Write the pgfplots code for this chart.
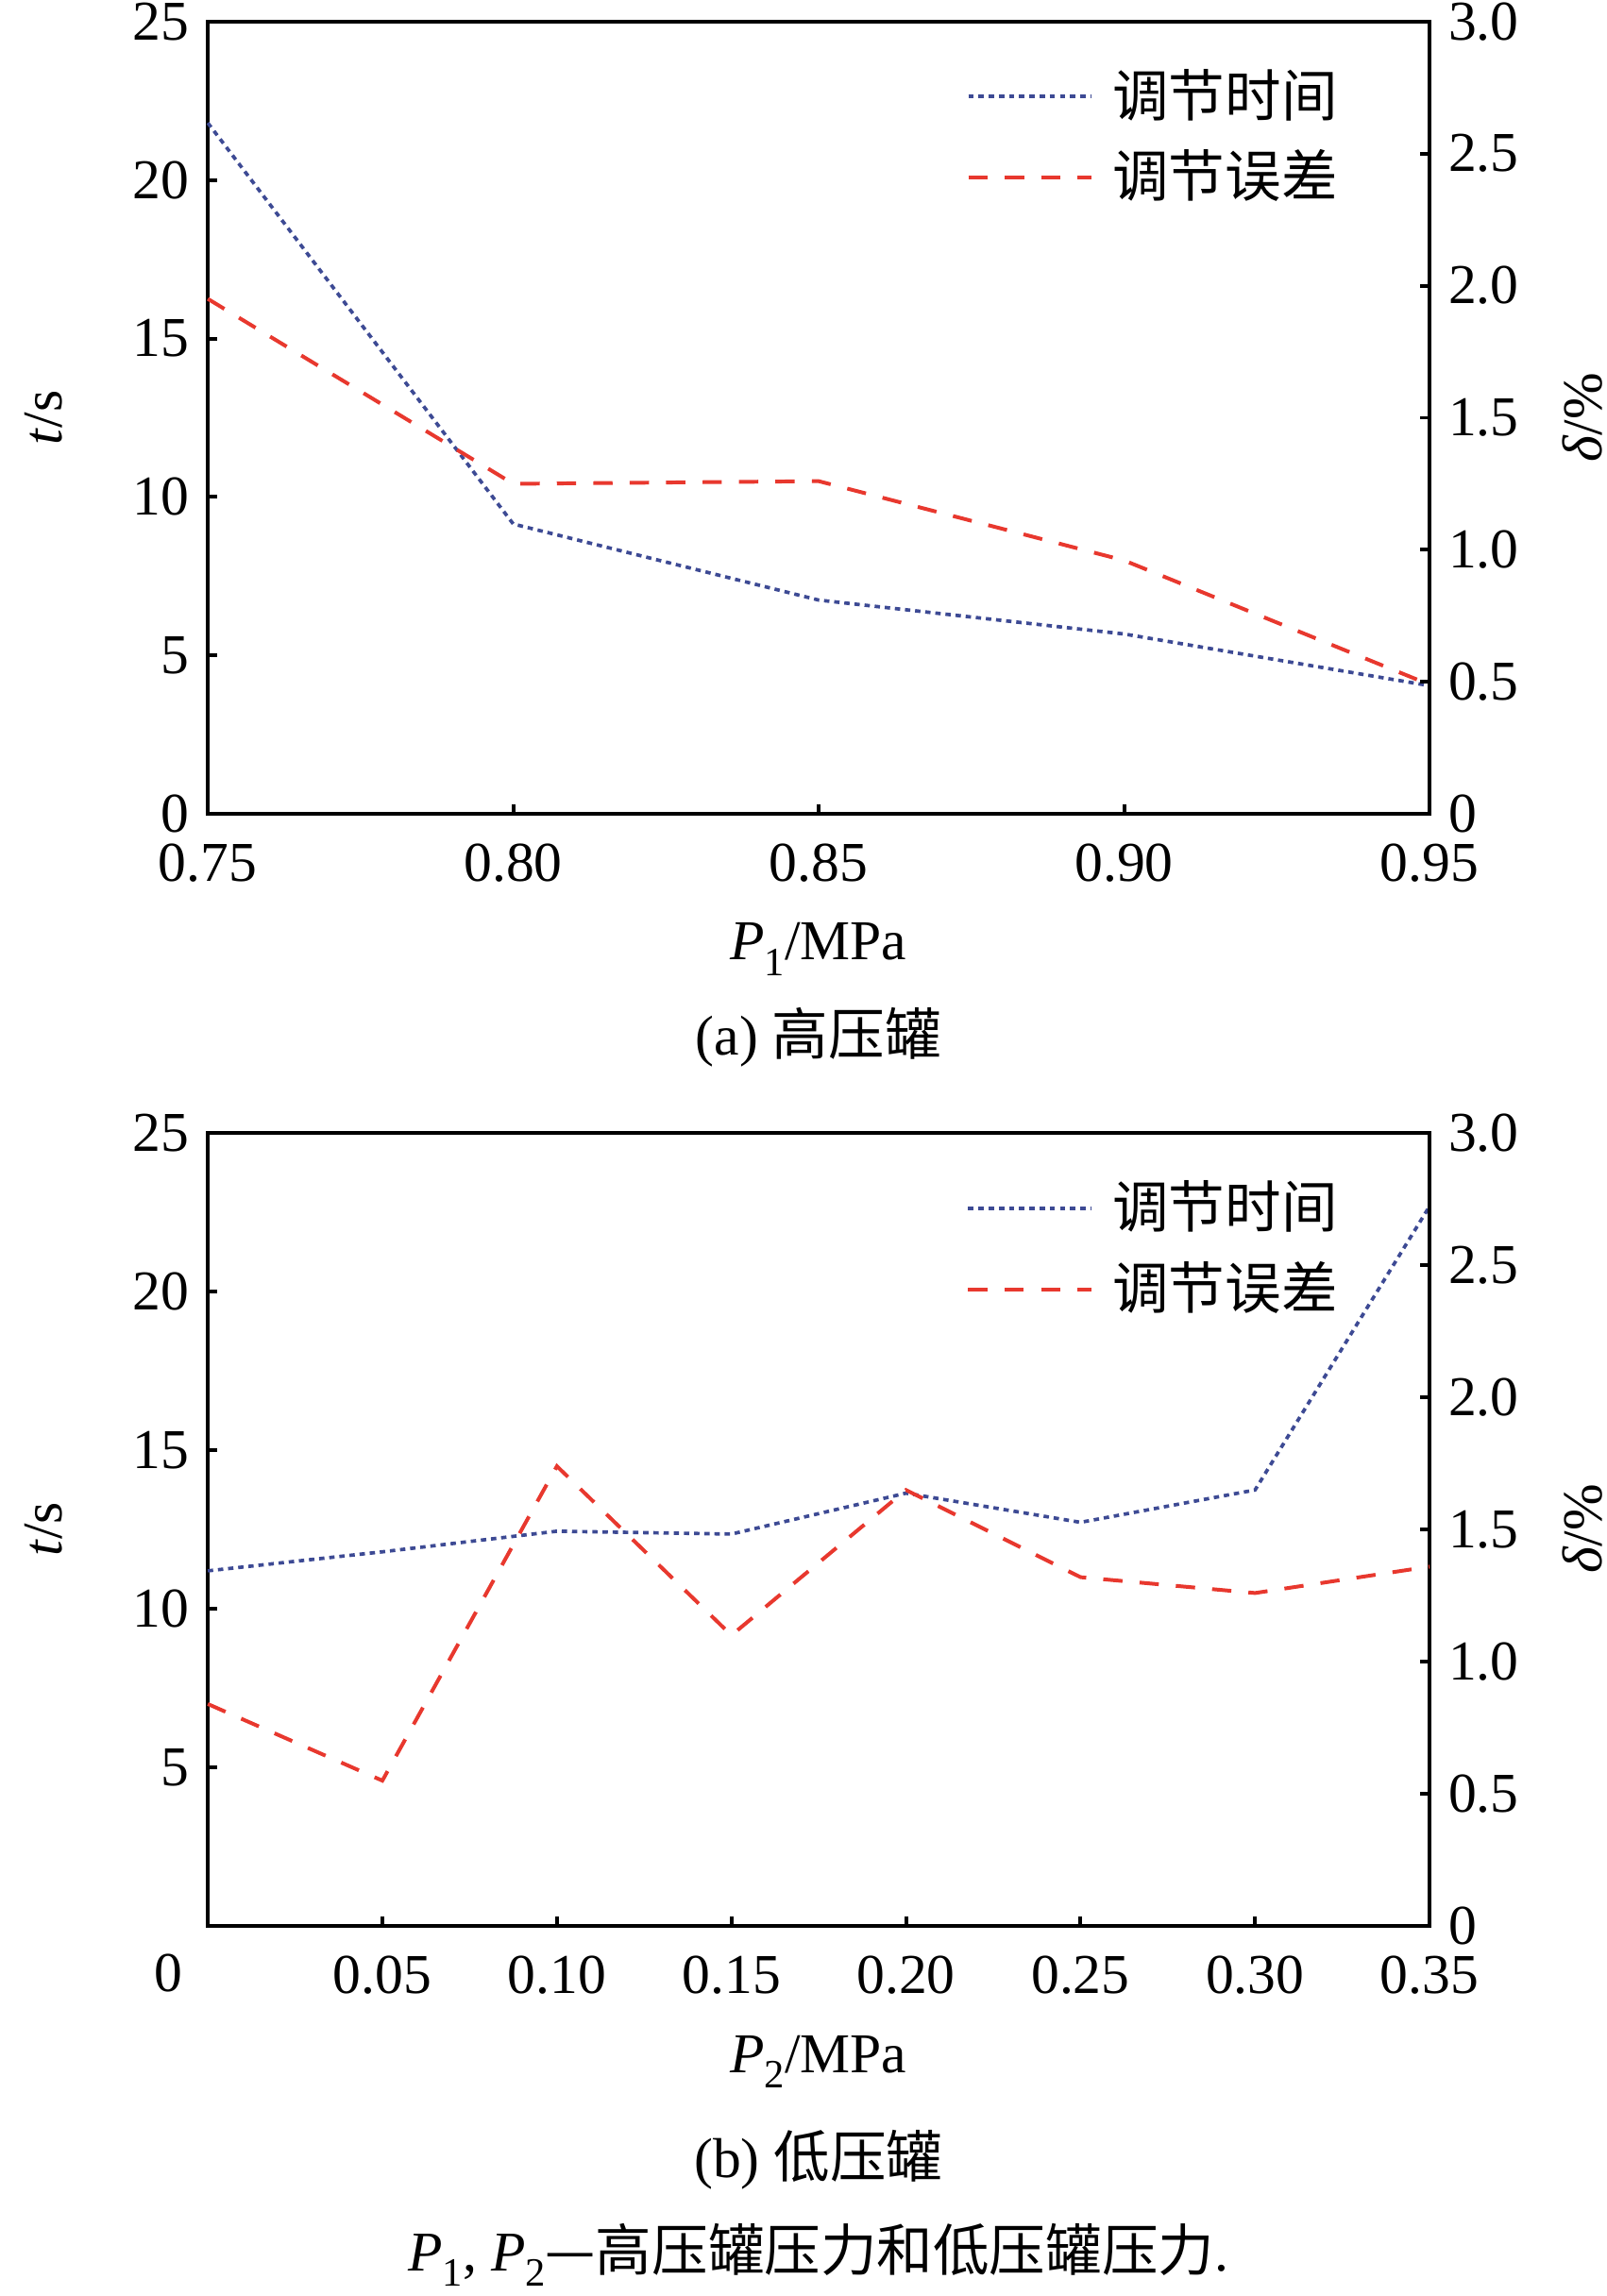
\documentclass[border=0pt]{standalone}
\usepackage{pgfplots}
\pgfplotsset{compat=1.18}
\usepackage{fontspec}
\setmainfont{Liberation Serif}
\newfontfamily\cjk{Noto Sans CJK SC}
\definecolor{tblue}{HTML}{3D4A94}
\definecolor{tred}{HTML}{E8382E}
\pgfplotsset{
  every axis/.append style={font=\fontsize{10.5}{12}\selectfont},
  /pgf/number format/assume math mode=true,
  common/.style={
    scale only axis, width=228.1pt, height=148pt, anchor=south west,
    tick align=inside, major tick length=1.8pt,
    axis line style={line width=0.7pt},
    every tick/.style={black, line width=0.7pt},
    xticklabel style={yshift=-2pt},
    clip=false,
  },
  tstyle/.style={color=tblue, line width=0.65pt, dash pattern=on 1pt off 0.9pt},
  dstyle/.style={color=tred, line width=0.7pt, dash pattern=on 3.6pt off 3.2pt},
  leg/.style={
    legend style={at={(0.62,0.955)}, anchor=north west, draw=none, fill=none,
      font=\cjk\fontsize{10.5}{12}\selectfont, row sep=0.8pt, inner sep=0pt},
    legend cell align=left,
    legend image code/.code={\draw[##1] (0pt,0pt) -- (23pt,0pt); \path (24.6pt,0pt);},
  },
}
\pgfplotstableread{
x t
0.75 21.8
0.80 9.15
0.85 6.75
0.90 5.68
0.95 4.05
}\topT
\pgfplotstableread{
x d
0.75 1.95
0.80 1.25
0.85 1.26
0.90 0.96
0.95 0.49
}\topD
\pgfplotstableread{
x t
0.00 11.2
0.05 11.8
0.10 12.45
0.15 12.36
0.20 13.65
0.25 12.73
0.30 13.75
0.35 22.7
}\botT
\pgfplotstableread{
x d
0.00 0.84
0.05 0.55
0.10 1.74
0.15 1.10
0.20 1.65
0.25 1.32
0.30 1.26
0.35 1.36
}\botD
\begin{document}
\begin{tikzpicture}
\path[use as bounding box] (0,0) rectangle (300pt,-428.7pt);
% ---------- top panel ----------
\begin{axis}[common, at={(38.8pt,-152pt)},
  xmin=0.75, xmax=0.95, ymin=0, ymax=25,
  xtick={0.75,0.80,0.85,0.90,0.95},
  xticklabels={0.75,0.80,0.85,0.90,0.95},
  ytick={0,5,10,15,20,25},
  xtick pos=bottom, ytick pos=left]
\addplot[tstyle] table[x=x,y=t] {\topT};
\end{axis}
\begin{axis}[common, at={(38.8pt,-152pt)}, leg,
  xmin=0.75, xmax=0.95, ymin=0, ymax=3,
  axis x line=none, axis y line*=right,
  ytick={0,0.5,1,1.5,2,2.5,3},
  yticklabels={0,0.5,1.0,1.5,2.0,2.5,3.0}]
\addlegendimage{tstyle}
\addlegendentry{调节时间}
\addplot[dstyle] table[x=x,y=d] {\topD};
\addlegendentry{调节误差}
\end{axis}
% ---------- bottom panel ----------
\begin{axis}[common, at={(38.8pt,-359.6pt)},
  xmin=0, xmax=0.35, ymin=0, ymax=25,
  xtick={0.05,0.10,0.15,0.20,0.25,0.30,0.35},
  xticklabels={0.05,0.10,0.15,0.20,0.25,0.30,0.35},
  ytick={5,10,15,20,25},
  xtick pos=bottom, ytick pos=left]
\addplot[tstyle] table[x=x,y=t] {\botT};
\node[below, inner sep=0pt] at ([xshift=-7.4pt,yshift=-5pt]rel axis cs:0,0) {0};
\end{axis}
\begin{axis}[common, at={(38.8pt,-359.6pt)}, leg,
  xmin=0, xmax=0.35, ymin=0, ymax=3,
  axis x line=none, axis y line*=right,
  ytick={0,0.5,1,1.5,2,2.5,3},
  yticklabels={0,0.5,1.0,1.5,2.0,2.5,3.0}]
\addlegendimage{tstyle}
\addlegendentry{调节时间}
\addplot[dstyle] table[x=x,y=d] {\botD};
\addlegendentry{调节误差}
\end{axis}
% ---------- labels ----------
\begin{scope}[font=\fontsize{10.5}{12}\selectfont]
\node[rotate=90] at (8.2pt,-78pt) {\textit{t}/s};
\node[rotate=90] at (295.5pt,-78pt) {\textit{δ}/\%};
\node[rotate=90] at (8.2pt,-285.5pt) {\textit{t}/s};
\node[rotate=90] at (295.5pt,-285.5pt) {\textit{δ}/\%};
\node at (152.8pt,-177.2pt) {\textit{P}\raisebox{-0.6ex}{\fontsize{7.5}{8}\selectfont 1}/MPa};
\node at (152.8pt,-193.6pt) {(a) {\cjk 高压罐}};
\node at (152.8pt,-385pt) {\textit{P}\raisebox{-0.6ex}{\fontsize{7.5}{8}\selectfont 2}/MPa};
\node at (152.8pt,-403.3pt) {(b) {\cjk 低压罐}};
\node at (152.8pt,-421pt) {\textit{P}\raisebox{-0.6ex}{\fontsize{7.5}{8}\selectfont 1}, \textit{P}\raisebox{-0.6ex}{\fontsize{7.5}{8}\selectfont 2}{\cjk —高压罐压力和低压罐压力}.};
\end{scope}
\end{tikzpicture}
\end{document}
